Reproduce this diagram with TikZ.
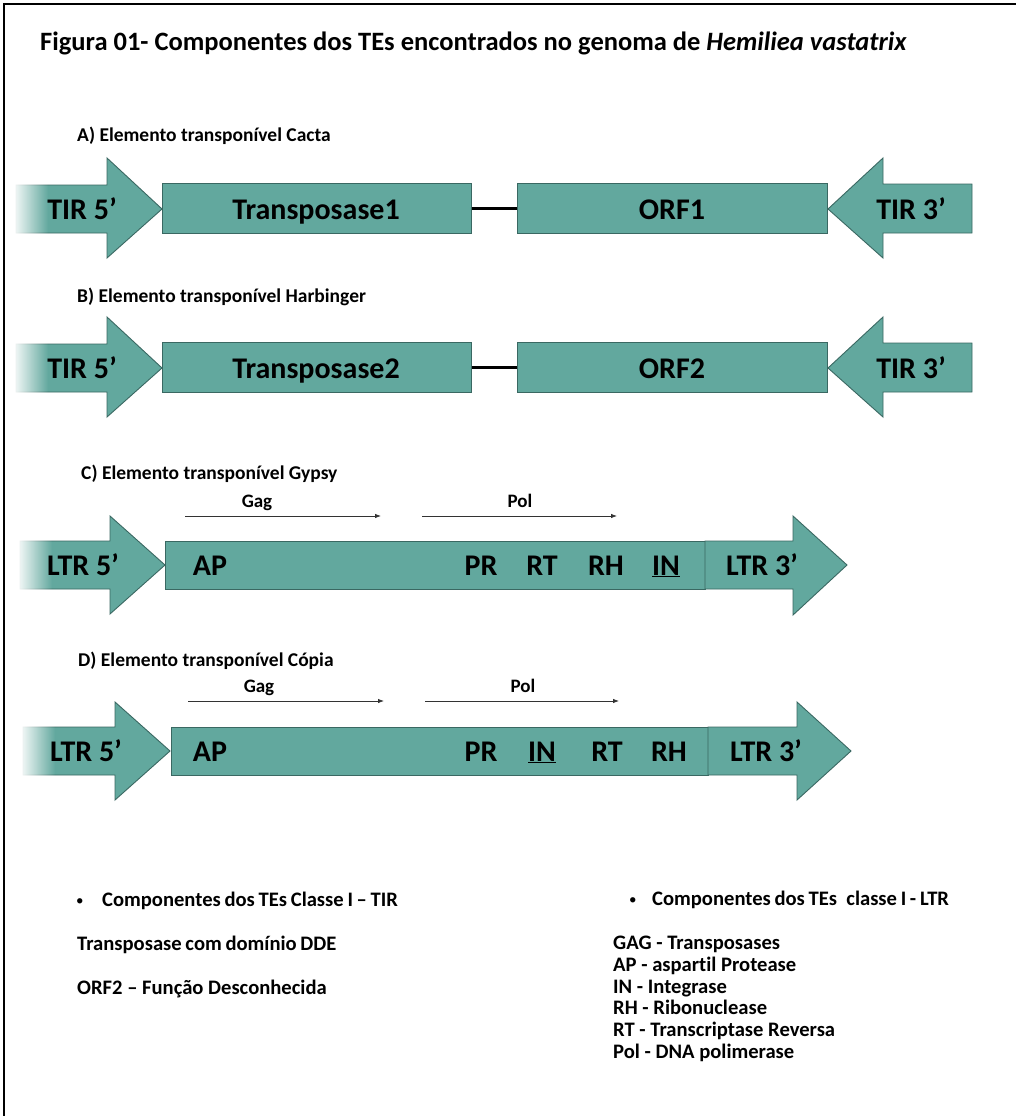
\documentclass[tikz,border=0pt]{standalone}
\usepackage{fontspec}
\setmainfont[Ligatures=NoCommon]{Carlito}
\newfontfamily\tightfont[Ligatures=NoCommon,WordSpace=0.8]{Carlito}
\usetikzlibrary{arrows.meta,fadings}
\definecolor{tealf}{RGB}{98,168,158}
\definecolor{teald}{RGB}{58,104,98}
\tikzfading[name=fadeleft, left color=transparent!0, right color=transparent!100]
\begin{document}
\begin{tikzpicture}[x=1pt,y=-1pt,
  shapeline/.style={draw=teald, line width=0.9pt, fill=tealf},
  box/.style={shapeline, inner sep=0pt, anchor=north west},
  big/.style={font=\bfseries\fontsize{30}{36}\selectfont, inner sep=0pt, anchor=base},
  sect/.style={font=\bfseries\fontsize{19.5}{23}\selectfont, inner sep=0pt, anchor=base west},
  small/.style={font=\bfseries\fontsize{19}{22}\selectfont, inner sep=0pt, anchor=base},
  leg/.style={font=\bfseries\fontsize{20.6}{24}\selectfont, inner sep=0pt, anchor=base west},
  leghead/.style={font=\tightfont\bfseries\fontsize{20.6}{24}\selectfont, inner sep=0pt, anchor=base west},
  bul/.style={font=\fontsize{15}{18}\selectfont, inner sep=0pt, anchor=base west},
  thinarrow/.style={draw=black!80, line width=0.8pt, -{Latex[length=6pt,width=4.5pt]}},
  fadeover/.style={fill=white, path fading=fadeleft}
]
\useasboundingbox (0,0) rectangle (1016,1116);
\fill[white] (0,0) rectangle (1016,1116);
\draw[line width=1.3pt] (4,1116) -- (4,4) -- (1016,4);

% Title
\node[anchor=base west, inner sep=0pt, font=\bfseries\fontsize{26.5}{31}\selectfont] (title) at (40,51)
  {Figura 01- Componentes dos TEs encontrados no genoma de \textit{Hemiliea vastatrix}};

% ---------- A ----------
\node[sect] (labA) at (77,141) {A) Elemento transponível Cacta};
\path[shapeline] (16,185) -- (107,185) -- (107,158) -- (162,209) -- (107,258) -- (107,233) -- (16,233) -- cycle;
\fill[fadeover] (12,183) rectangle (48,235);
\node[big] (tirA5) at (82,219) {TIR 5’};
\node[box, minimum width=309pt, minimum height=50pt] (tpA) at (162,183) {};
\node[big] (tpAt) at (316,219) {Transposase1};
\node[box, minimum width=310pt, minimum height=50pt] (orfA) at (517,183) {};
\node[big] (orfAt) at (672,219) {ORF1};
\draw[line width=2.8pt] (tpA.east) -- (orfA.west);
\path[shapeline] (972,184) -- (883,184) -- (883,158) -- (828,209) -- (883,258) -- (883,233) -- (972,233) -- cycle;
\node[big] (tirA3) at (911,219) {TIR 3’};

% ---------- B ----------
\node[sect] (labB) at (77,302) {B) Elemento transponível Harbinger};
\path[shapeline] (16,344) -- (107,344) -- (107,317) -- (162,368) -- (107,417) -- (107,392) -- (16,392) -- cycle;
\fill[fadeover] (12,342) rectangle (48,394);
\node[big] (tirB5) at (82,378) {TIR 5’};
\node[box, minimum width=309pt, minimum height=50pt] (tpB) at (162,342) {};
\node[big] (tpBt) at (316,378) {Transposase2};
\node[box, minimum width=310pt, minimum height=50pt] (orfB) at (517,342) {};
\node[big] (orfBt) at (672,378) {ORF2};
\draw[line width=2.8pt] (tpB.east) -- (orfB.west);
\path[shapeline] (972,343) -- (883,343) -- (883,317) -- (828,368) -- (883,417) -- (883,392) -- (972,392) -- cycle;
\node[big] (tirB3) at (911,378) {TIR 3’};

% ---------- C ----------
\node[sect] (labC) at (81,479) {C) Elemento transponível Gypsy};
\node[small] (gagC) at (257,507) {Gag};
\node[small] (polC) at (520,507) {Pol};
\coordinate (gagCs) at (185,516); \coordinate (gagCe) at (381,516);
\coordinate (polCs) at (422,516); \coordinate (polCe) at (617,516);
\draw[thinarrow] (gagCs) -- (gagCe);
\draw[thinarrow] (polCs) -- (polCe);
\path[shapeline] (20,541) -- (110,541) -- (110,516) -- (165,565) -- (110,614) -- (110,589) -- (20,589) -- cycle;
\fill[fadeover] (16,539) rectangle (52,591);
\node[big] (ltrC5) at (83,575) {LTR 5’};
\node[box, minimum width=540pt, minimum height=48pt] (bodyC) at (165,541) {};
\path[shapeline] (705,541) -- (793,541) -- (793,516) -- (847,565) -- (793,615) -- (793,589) -- (705,589) -- cycle;
\node[big] (ltrC3) at (762,575) {LTR 3’};
\node[big] (apC) at (210,575) {AP};
\node[big] (prC) at (481,575) {PR};
\node[big] (rtC) at (542,575) {RT};
\node[big] (rhC) at (606,575) {RH};
\node[big] (inC) at (666,575) {\underline{IN}};

% ---------- D ----------
\node[sect] (labD) at (78,666) {D) Elemento transponível Cópia};
\node[small] (gagD) at (259,692) {Gag};
\node[small] (polD) at (523,692) {Pol};
\coordinate (gagDs) at (188,701); \coordinate (gagDe) at (384,701);
\coordinate (polDs) at (425,701); \coordinate (polDe) at (619,701);
\draw[thinarrow] (gagDs) -- (gagDe);
\draw[thinarrow] (polDs) -- (polDe);
\path[shapeline] (23,727) -- (115,727) -- (115,702) -- (170,751) -- (115,800) -- (115,775) -- (23,775) -- cycle;
\fill[fadeover] (19,725) rectangle (55,777);
\node[big] (ltrD5) at (86,761) {LTR 5’};
\node[box, minimum width=537pt, minimum height=48pt] (bodyD) at (171,727) {};
\path[shapeline] (708,727) -- (797,727) -- (797,702) -- (851,751) -- (797,800) -- (797,775) -- (708,775) -- cycle;
\node[big] (ltrD3) at (766,761) {LTR 3’};
\node[big] (apD) at (210,761) {AP};
\node[big] (prD) at (481,761) {PR};
\node[big] (inD) at (542,761) {\underline{IN}};
\node[big] (rtD) at (607,761) {RT};
\node[big] (rhD) at (669,761) {RH};

% ---------- Legend left ----------
\node[bul] (bulL) at (76,905) {•};
\node[leghead] (legL1) at (102,906) {Componentes dos TEs Classe I – TIR};
\node[leghead] (legL2) at (77,950) {Transposase com domínio DDE};
\node[leg] (legL3) at (77,994) {ORF2 – Função Desconhecida};

% ---------- Legend right ----------
\node[bul] (bulR) at (629,904) {•};
\node[leghead] (legR1) at (652,905) {Componentes dos TEs\hspace{0.45em}classe I - LTR};
\node[leg] (legR2) at (613,949) {GAG - Transposases};
\node[leg] (legR3) at (613,971) {AP - aspartil Protease};
\node[leg] (legR4) at (613,993) {IN - Integrase};
\node[leg] (legR5) at (613,1014) {RH - Ribonuclease};
\node[leg] (legR6) at (613,1036) {RT - Transcriptase Reversa};
\node[leg] (legR7) at (613,1058) {Pol - DNA polimerase};
\end{tikzpicture}
\end{document}
